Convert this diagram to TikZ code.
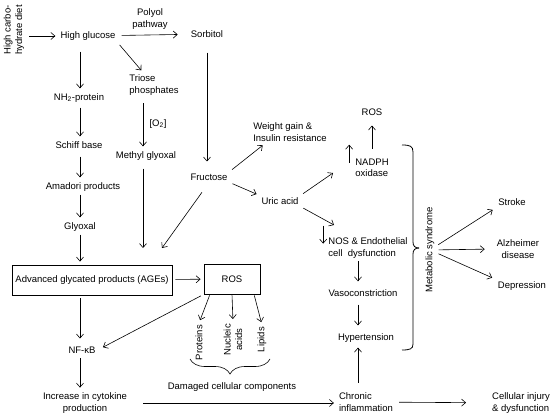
\documentclass[tikz,border=0pt]{standalone}
\usepackage{fontspec}
\setmainfont{Liberation Sans}
\usetikzlibrary{arrows.meta,decorations.pathreplacing}
\begin{document}
\begin{tikzpicture}[x=1pt,y=-1pt,
  every node/.style={font=\fontsize{9.5}{11.5}\selectfont, inner sep=2pt},
  arr/.style={-{Straight Barb[length=4pt,width=7pt]}, line width=0.6pt, shorten <=3pt, shorten >=3pt},
  box/.style={draw, line width=0.9pt, minimum height=30pt}]
\useasboundingbox (0,0) rectangle (557,417);

% columns used by the straight arrows
\coordinate (lcol) at (80,0);
\coordinate (mcol) at (143,0);
\coordinate (vcol) at (358,0);
\coordinate (agein) at (162,248);
\coordinate (nadin) at (333,173);
\coordinate (nosin) at (334,225);

% glucose branch
\node[rotate=90, align=center] (diet) at (14,30) {High carbo-\\hydrate diet};
\node (glu) at (88,36) {High glucose};
\node[align=center] (pol) at (150,19) {Polyol\\pathway};
\node (sorb) at (207,34) {Sorbitol};
\node[align=left] (tri) at (154,85) {Triose\\phosphates};
\node (nh) at (79,98) {NH\textsubscript{2}-protein};
\node (o2) at (158,124) {[O\textsubscript{2}]};
\node (sch) at (79,145) {Schiff base};
\node (meth) at (146,156) {Methyl glyoxal};
\node (ama) at (83,187) {Amadori products};
\node (gly) at (80,227) {Glyoxal};
\node (fru) at (209,177) {Fructose};

\node[box, minimum width=160pt] (ages) at (92,280) {Advanced glycated products (AGEs)};
\node[box, minimum width=56pt] (ros2) at (232,279) {ROS};
\node (nf) at (82,350) {NF-κB};
\node[align=center] (inc) at (85,403) {Increase in cytokine\\production};

\node[rotate=90, anchor=east] (prot) at (199,323) {Proteins};
\node[rotate=90, anchor=east, align=center] (nuc) at (233,322) {Nucleic\\acids};
\node[rotate=90, anchor=east] (lip) at (262,325) {Lipids};
\node (dam) at (232,387) {Damaged cellular components};

% fructose branch
\node[align=left] (wt) at (290,132) {Weight gain \&\\Insulin resistance};
\node (uric) at (280,201) {Uric acid};
\node[align=left] (nad) at (372,168) {NADPH\\oxidase};
\node (ros1) at (372,112) {ROS};
\node[align=left] (nos) at (368,248) {NOS \& Endothelial\\cell\ \ dysfunction};
\node (vaso) at (363,293) {Vasoconstriction};
\node (hyp) at (366,338) {Hypertension};
\node[align=left] (chr) at (366,402) {Chronic\\inflammation};
\node[align=left] (cell) at (521,403) {Cellular injury\\\& dysfunction};

\node[rotate=90] (met) at (430,250) {Metabolic syndrome};
\node (stroke) at (512,202) {Stroke};
\node[align=center] (alz) at (518,249) {Alzheimer\\disease};
\node (dep) at (522,286) {Depression};

% arrows
\draw[arr] (diet.south |- glu) -- (glu);
\draw[arr, shorten <=4pt, shorten >=11pt] (glu) -- (sorb);
\draw[arr] (glu.south east) -- ([xshift=16pt]tri.north west);
\draw[arr, shorten <=9pt] (lcol |- glu.south) -- (lcol |- nh.north);
\draw[arr] (lcol |- nh.south) -- (lcol |- sch.north);
\draw[arr, shorten <=6pt] (lcol |- sch.south) -- (lcol |- ama.north);
\draw[arr, shorten <=1pt] (lcol |- ama.south) -- (lcol |- gly.north);
\draw[arr, shorten <=1pt] (lcol |- gly.south) -- (lcol |- ages.north);
\draw[arr, shorten <=6pt] (mcol |- tri.south) -- (mcol |- meth.north);
\draw[arr, shorten <=6pt, shorten >=0pt] (mcol |- meth.south) -- (mcol |- agein);
\draw[arr, shorten <=13pt, shorten >=10pt] (sorb.south) -- (sorb.south |- fru.north);
\draw[arr, shorten <=12pt, shorten >=0pt] (fru.south) -- (agein);

\draw[arr] (ages) -- (ros2);
\draw[arr, shorten >=6pt] (lcol |- ages.south) -- (lcol |- nf.north);
\draw[arr, shorten >=6pt] (ros2.south west) -- (nf.east);
\draw[arr] (lcol |- nf.south) -- (lcol |- inc.north);
\draw[arr, shorten <=1pt] (ros2.215) -- (prot.east);
\draw[arr, shorten <=1pt] (ros2.south) -- (nuc.east);
\draw[arr, shorten <=1pt] (ros2.325) -- (lip.east);
\draw[decorate, decoration={brace, amplitude=15pt}, line width=0.6pt] (270,359) -- (190,359);
\draw[arr, shorten <=14pt] (inc.east) -- (inc.east -| chr.west);
\draw[arr, shorten <=4pt, shorten >=24pt] (chr) -- (cell);

\draw[arr] (fru.north east) -- ([xshift=14pt]wt.south west);
\draw[arr] (fru.south east) -- (uric.north west);
\draw[arr, shorten >=0pt] (uric.north east) -- (nadin);
\draw[arr, shorten >=0pt] (uric.south east) -- (nosin);
\draw[arr, shorten <=8pt, shorten >=8pt] (nad) -- (ros1);
\draw[arr, shorten <=0pt, shorten >=0pt] ([xshift=-4pt,yshift=-6pt]nad.north west) -- ++(0,-18);
\draw[arr, shorten <=0pt, shorten >=0pt] ([xshift=-3pt,yshift=10pt]nos.north west) -- ++(0,18);
\draw[arr, shorten <=1pt, shorten >=6pt] (vcol |- nos.south) -- (vcol |- vaso.north);
\draw[arr, shorten <=6pt, shorten >=6pt] (vcol |- vaso.south) -- (vcol |- hyp.north);
\draw[arr, shorten <=8pt, shorten >=3pt] (vcol |- chr.north) -- (vcol |- hyp.south);

% metabolic syndrome brace
\draw[line width=0.8pt] (402,145) .. controls (410,145) and (413,146) .. (413,152) -- (413,242)
  .. controls (413,246) and (415,248) .. (419,248);
\draw[line width=0.8pt] (419,248) .. controls (415,248) and (413,250) .. (413,254) -- (413,344)
  .. controls (413,349) and (410,350) .. (402,350);
\draw[arr, shorten <=2pt, shorten >=4pt] (met) -- (stroke.south west);
\draw[arr, shorten <=2pt, shorten >=10pt] (met) -- (alz.west);
\draw[arr, shorten <=2pt, shorten >=4pt] (met) -- (dep.north west);
\end{tikzpicture}
\end{document}
